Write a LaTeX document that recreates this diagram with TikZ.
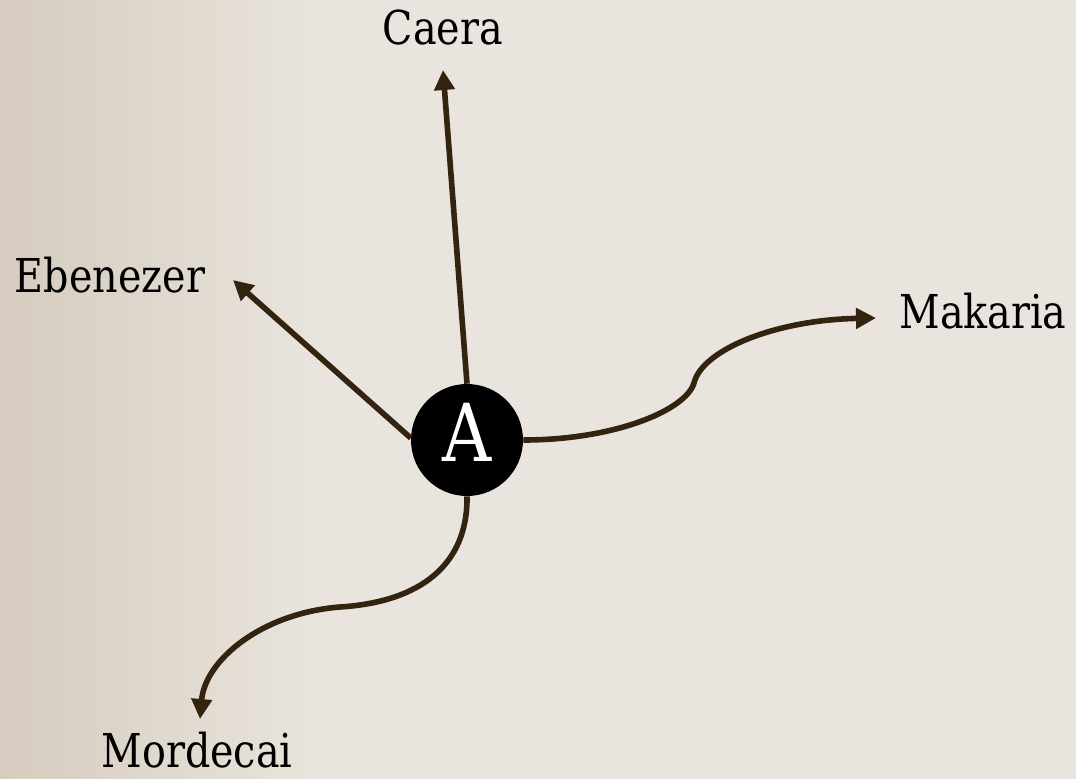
\documentclass[tikz,border=0pt]{standalone}
\usepackage{fontspec}
\setmainfont{DejaVu Serif}[FakeStretch=0.85]
\usepackage{tikz}
\usetikzlibrary{arrows.meta}
\definecolor{parchL}{HTML}{D6CCBF}
\definecolor{parchR}{HTML}{E9E5DE}
\definecolor{ink}{HTML}{33230F}

\begin{document}
\begin{tikzpicture}[x=0.75pt, y=-0.75pt,
  hub/.style={circle, fill=black, text=white, minimum size=84pt, inner sep=0pt, text height=44pt, text depth=12pt, font=\fontsize{60}{60}\selectfont},
  lbl/.style={anchor=base, font=\fontsize{35}{35}\selectfont},
  link/.style={ink, line width=4.2pt, -{Triangle[length=15pt, width=15pt]}}]
  \useasboundingbox (0,0) rectangle (1076,779);
  \fill[parchR] (0,0) rectangle (1076,779);
  \shade[left color=parchL, right color=parchR] (0,0) rectangle (330,779);
  \node[hub] (A) at (467,440) {A};
  \node[lbl] (caera) at (443,44) {Caera};
  \node[lbl] (ebenezer) at (110,292) {Ebenezer};
  \node[lbl] (makaria) at (983,328) {Makaria};
  \node[lbl] (mordecai) at (197,767) {Mordecai};
  \coordinate (catip) at (443,70); \coordinate (ebtip) at (233,280);
  \coordinate (mktip) at (876,318); \coordinate (mdtip) at (200,719);
  \draw[link] (A.north) -- (catip);
  \draw[link] (A.178) -- (ebtip);
  \draw[link] (A.east) .. controls (615,440) and (686,410) .. (694,383)
    .. controls (702,350) and (775,320) .. (mktip);
  \draw[link] (A.south) .. controls (468,565) and (420,602) .. (340,607)
    .. controls (262,613) and (205,660) .. (mdtip);
\end{tikzpicture}
\end{document}
